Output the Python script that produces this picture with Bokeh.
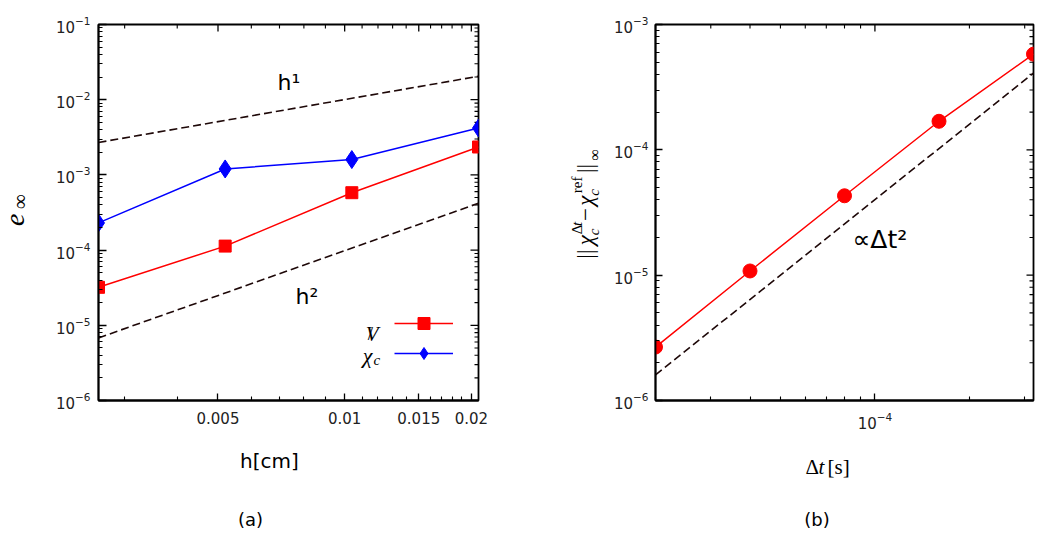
import math
from bokeh.plotting import figure
from bokeh.models import (Range1d, FixedTicker, CustomJSTickFormatter,
                          Label, Legend, LegendItem)
from bokeh.layouts import row, column
from bokeh.core.properties import value
from bokeh.embed import file_html
from bokeh.resources import INLINE

# ---------------- data: panel (a) ----------------
h_cm = [0.0026, 0.0052, 0.0104, 0.0208]
err_V = [3.2e-5, 1.13e-4, 5.8e-4, 2.35e-3]
err_chi = [2.3e-4, 1.2e-3, 1.6e-3, 4.2e-3]
ref_h1_x = [0.0026, 0.0208]
ref_h1_y = [2.7e-3, 2.05e-2]
ref_h2_x = [0.0026, 0.0208]
ref_h2_y = [6.8e-6, 4.2e-4]

# ---------------- data: panel (b) ----------------
dt_s = [2e-5, 4e-5, 8e-5, 1.6e-4, 3.2e-4]
err_dt = [2.67e-6, 1.08e-5, 4.3e-5, 1.69e-4, 5.8e-4]
ref_dt2_x = [2e-5, 3.2e-4]
ref_dt2_y = [1.6e-6, 4.1e-4]

# ---------------- ticks ----------------
xa_ticks = [0.005, 0.01, 0.015, 0.02]
xa_minor = [0.003, 0.004, 0.006, 0.007, 0.008, 0.009, 0.011, 0.012, 0.013,
            0.014, 0.016, 0.017, 0.018, 0.019]
ya_ticks = [1e-6, 1e-5, 1e-4, 1e-3, 1e-2, 1e-1]
xb_ticks = [1e-4]
xb_minor = [2e-5, 3e-5, 4e-5, 5e-5, 6e-5, 7e-5, 8e-5, 9e-5, 2e-4, 3e-4]
yb_ticks = [1e-6, 1e-5, 1e-4, 1e-3]


def minor_decades(ticks):
    out = []
    for t in ticks[:-1]:
        for m in range(2, 10):
            out.append(m * t)
    return out


DASH_COLOR = "#1e0808"
TICK_COLOR = "#222222"
SERIF = "Liberation Serif"
SANS = "DejaVu Sans"
H_TOP = 448
H_BOT = 88


def style_axis(ax, tick_in, minor_in, font_size, standoff):
    ax.axis_line_color = "black"
    ax.axis_line_width = 1.8
    ax.major_tick_line_color = "black"
    ax.minor_tick_line_color = "black"
    ax.major_tick_line_width = 1.3
    ax.minor_tick_line_width = 1.1
    ax.major_tick_in = tick_in
    ax.major_tick_out = 0
    ax.minor_tick_in = minor_in
    ax.minor_tick_out = 0
    ax.major_label_standoff = standoff
    ax.major_label_text_font = SANS
    ax.major_label_text_color = TICK_COLOR
    ax.major_label_text_font_size = font_size


def mirror_ticks(p, x_major, x_minor, y_major, y_minor, x_edge, y_edge,
                 len_major, len_minor, ylen_major, ylen_minor):
    """Inward tick marks on the top and right frame edges (box style)."""
    kw = dict(line_color="black", length_units="screen")
    p.ray(x=x_major, y=[y_edge] * len(x_major), length=len_major,
          angle=-math.pi / 2, line_width=1.3, **kw)
    p.ray(x=x_minor, y=[y_edge] * len(x_minor), length=len_minor,
          angle=-math.pi / 2, line_width=1.1, **kw)
    p.ray(x=[x_edge] * len(y_major), y=y_major, length=ylen_major,
          angle=math.pi, line_width=1.3, **kw)
    p.ray(x=[x_edge] * len(y_minor), y=y_minor, length=ylen_minor,
          angle=math.pi, line_width=1.1, **kw)


def make_fig(xr, yr, width, mb_left, mb_right, mb_top, mb_bottom):
    p = figure(x_axis_type="log", y_axis_type="log", x_range=xr, y_range=yr,
               width=width, height=H_TOP, min_border_left=mb_left,
               min_border_right=mb_right, min_border_top=mb_top,
               min_border_bottom=mb_bottom, output_backend="svg",
               toolbar_location=None, title=None)
    p.xgrid.visible = False
    p.ygrid.visible = False
    p.outline_line_color = "black"
    p.outline_line_width = 1.8
    p.background_fill_color = "white"
    p.border_fill_color = "white"
    return p


def text_fig(width, height):
    p = figure(width=width, height=height, x_range=Range1d(0, width),
               y_range=Range1d(0, height), min_border=0, min_border_left=0,
               min_border_right=0, min_border_top=0, min_border_bottom=0,
               x_axis_location=None, y_axis_location=None,
               output_backend="svg", toolbar_location=None, title=None)
    p.grid.visible = False
    p.outline_line_color = None
    p.background_fill_color = "white"
    p.border_fill_color = "white"
    return p


def txt(p, x, y, text, size, font=SERIF, style="normal", align="left",
        angle=0.0, baseline="alphabetic"):
    p.text(x=[x], y=[y], text=[text], text_font=value(font),
           text_font_style=style, text_font_size=f"{size}px",
           text_align=align, text_baseline=baseline, angle=angle,
           text_color="black")


def lbl(p, text, x, y, size, font=SANS, style="normal", align="left",
        baseline="alphabetic", angle=0.0, color="black"):
    p.add_layout(Label(x=x, y=y, x_units="screen", y_units="screen", text=text,
                       text_font=font, text_font_style=style,
                       text_font_size=f"{size}px", text_align=align,
                       text_baseline=baseline, angle=angle, text_color=color))


A = math.pi / 2

# =============== y-label strip for panel (a) ===============
ya_lab = text_fig(50, H_TOP)
txt(ya_lab, 14, H_TOP - 240, "e", 28, style="italic", angle=A, baseline="middle")
txt(ya_lab, 19, H_TOP - 220, "\u221e", 21, angle=A, baseline="middle")

# =============== panel (a) ===============
pa = make_fig(Range1d(h_cm[0], h_cm[-1]), Range1d(ya_ticks[0], ya_ticks[-1]),
              470, 48, 42, 20, 48)

pa.xaxis.ticker = FixedTicker(ticks=xa_ticks, minor_ticks=xa_minor)
pa.xaxis.formatter = CustomJSTickFormatter(code="return tick.toString()")
pa.yaxis.ticker = FixedTicker(ticks=ya_ticks, minor_ticks=minor_decades(ya_ticks))
style_axis(pa.xaxis[0], 7, 4, "15px", 11)
style_axis(pa.yaxis[0], 8, 4, "15px", 8)
mirror_ticks(pa, xa_ticks, xa_minor, ya_ticks, minor_decades(ya_ticks),
             h_cm[-1], ya_ticks[-1], 7, 4, 8, 4)

pa.line(ref_h1_x, ref_h1_y, line_color=DASH_COLOR, line_width=1.6, line_dash="8 4")
pa.line(ref_h2_x, ref_h2_y, line_color=DASH_COLOR, line_width=1.6, line_dash="8 4")

rc_line = pa.line(h_cm, err_chi, line_color="blue", line_width=1.5)
rc_mark = pa.scatter(h_cm, err_chi, marker="diamond", size=18,
                     fill_color="blue", line_color="blue")
rv_line = pa.line(h_cm, err_V, line_color="red", line_width=1.5)
rv_mark = pa.scatter(h_cm, err_V, marker="square", size=12,
                     fill_color="red", line_color="red")

legend = Legend(items=[LegendItem(label=" ", renderers=[rv_line, rv_mark]),
                       LegendItem(label=" ", renderers=[rc_line, rc_mark])],
                location=(296, 32), glyph_width=59, glyph_height=30,
                label_height=23, label_width=1, label_standoff=0,
                label_text_font_size="1px", padding=0, margin=0, spacing=-7,
                border_line_color=None, background_fill_alpha=0)
pa.add_layout(legend)

# legend texts
lbl(pa, "V", 280, 67, 21, font=SERIF, style="italic", align="right")
lbl(pa, "/", 272, 67, 19, font=SERIF, align="center")
lbl(pa, "\u03c7", 274, 45, 22, font=SERIF, style="italic", align="right")
lbl(pa, "c", 275, 41, 15, font=SERIF, style="italic")

# in-plot annotations
lbl(pa, "h\u00b9", 179, 318, 22)
lbl(pa, "h\u00b2", 197, 104, 22)

# =============== y-label strip for panel (b) ===============
yb_lab = text_fig(90, H_TOP)
X0 = 525
txt(yb_lab, 590 - X0, H_TOP - 279, "||", 23, angle=A)
txt(yb_lab, 590 - X0, H_TOP - 263, "\u03c7", 23, style="italic", angle=A)
txt(yb_lab, 598 - X0, H_TOP - 251, "c", 15, style="italic", angle=A)
txt(yb_lab, 581 - X0, H_TOP - 250, "\u0394", 15, angle=A)
txt(yb_lab, 581 - X0, H_TOP - 240, "t", 15, style="italic", angle=A)
txt(yb_lab, 590 - X0, H_TOP - 234, "\u2212", 23, angle=A)
txt(yb_lab, 590 - X0, H_TOP - 216, "\u03c7", 23, style="italic", angle=A)
txt(yb_lab, 598 - X0, H_TOP - 204, "c", 15, style="italic", angle=A)
txt(yb_lab, 581 - X0, H_TOP - 201, "ref", 15, angle=A)
txt(yb_lab, 590 - X0, H_TOP - 177, "||", 23, angle=A)
txt(yb_lab, 599 - X0, H_TOP - 162, "\u221e", 16, angle=A)

# =============== panel (b) ===============
pb = make_fig(Range1d(dt_s[0], dt_s[-1]), Range1d(yb_ticks[0], yb_ticks[-1]),
              440, 45, 17, 24, 44)
pb.xaxis.ticker = FixedTicker(ticks=xb_ticks, minor_ticks=xb_minor)
pb.yaxis.ticker = FixedTicker(ticks=yb_ticks, minor_ticks=minor_decades(yb_ticks))
style_axis(pb.xaxis[0], 7, 4, "15px", 11)
style_axis(pb.yaxis[0], 7, 4, "15px", 7)
mirror_ticks(pb, xb_ticks, xb_minor, yb_ticks, minor_decades(yb_ticks),
             dt_s[-1], yb_ticks[-1], 7, 4, 7, 4)

pb.line(ref_dt2_x, ref_dt2_y, line_color=DASH_COLOR, line_width=1.6, line_dash="8 4")
pb.line(dt_s, err_dt, line_color="red", line_width=1.5)
pb.scatter(dt_s, err_dt, marker="circle", size=14, fill_color="red", line_color="red")

lbl(pb, "\u221d\u0394t\u00b2", 197, 161, 25)

# =============== bottom strip: x labels and panel tags ===============
bot = text_fig(1050, H_BOT)
Y0 = H_TOP + H_BOT
txt(bot, 269, Y0 - 460, "h[cm]", 20, font=SANS, align="center")
txt(bot, 250, Y0 - 519, "(a)", 18, font=SANS, align="center")
txt(bot, 805, Y0 - 466, "\u0394", 21)
txt(bot, 818, Y0 - 466, "t", 21, style="italic")
txt(bot, 827, Y0 - 466, "[s]", 21)
txt(bot, 816.5, Y0 - 519, "(b)", 18, font=SANS, align="center")

layout = column(row(ya_lab, pa, yb_lab, pb), bot)
open("out.html", "w").write(file_html(layout, INLINE))
